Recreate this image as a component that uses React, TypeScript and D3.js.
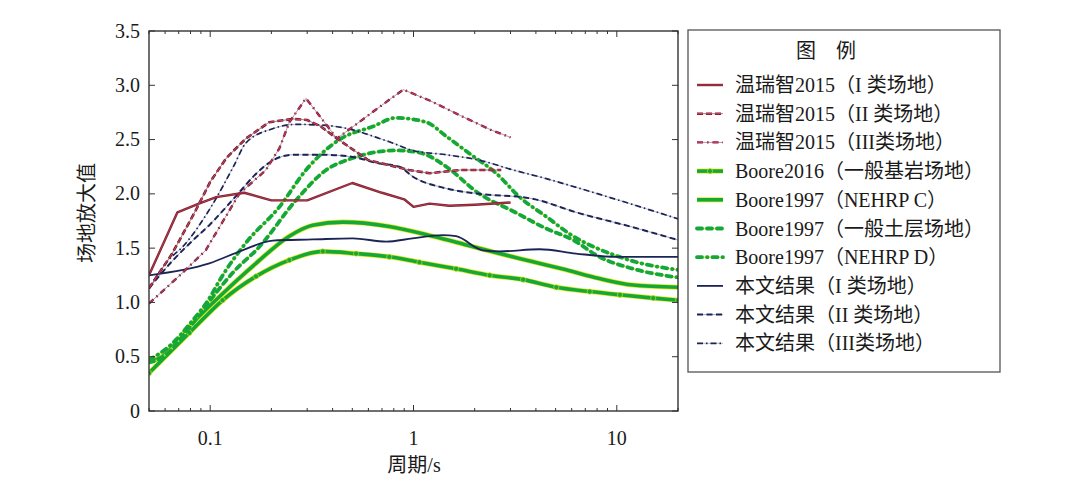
import React from "react";
import * as d3 from "d3";

// ---- data (period in s, amplification factor) ----
const wen1T = [0.05, 0.069, 0.088, 0.107, 0.147, 0.2, 0.3, 0.5, 0.7, 0.9, 1.0, 1.2, 1.5, 2.0, 3.0];
const wen1V = [1.25, 1.83, 1.91, 1.97, 2.01, 1.94, 1.94, 2.1, 2.01, 1.95, 1.88, 1.91, 1.89, 1.9, 1.92];

const wen2T = [0.05, 0.065, 0.085, 0.1, 0.12, 0.15, 0.195, 0.255, 0.3, 0.35, 0.42, 0.6, 0.95, 1.2, 1.7, 2.7];
const wen2V = [1.13, 1.45, 1.85, 2.11, 2.33, 2.51, 2.66, 2.69, 2.68, 2.62, 2.51, 2.31, 2.22, 2.19, 2.22, 2.22];

const wen3T = [0.05, 0.07, 0.095, 0.139, 0.188, 0.219, 0.245, 0.296, 0.42, 0.54, 0.68, 0.89, 1.2, 1.75, 2.4, 3.0];
const wen3V = [0.99, 1.24, 1.48, 2.0, 2.22, 2.42, 2.66, 2.88, 2.51, 2.66, 2.8, 2.96, 2.86, 2.71, 2.59, 2.52];

const b16T = [0.05, 0.079, 0.115, 0.168, 0.245, 0.358, 0.522, 0.76, 1.07, 1.62, 2.37, 3.46, 5.04, 7.36, 10.36, 15.1, 20];
const b16V = [0.35, 0.72, 1.02, 1.24, 1.39, 1.47, 1.45, 1.42, 1.37, 1.31, 1.25, 1.21, 1.14, 1.1, 1.07, 1.04, 1.02];

const bcT = [0.05, 0.058, 0.079, 0.115, 0.168, 0.245, 0.319, 0.449, 0.76, 1.245, 1.82, 2.65, 3.87, 5.64, 8.2, 12, 20];
const bcV = [0.45, 0.5, 0.78, 1.08, 1.36, 1.61, 1.71, 1.74, 1.7, 1.61, 1.53, 1.45, 1.375, 1.3, 1.22, 1.16, 1.14];

const bsT = [0.05, 0.058, 0.08, 0.1, 0.13, 0.174, 0.264, 0.372, 0.503, 0.82, 1.0, 1.155, 1.45, 2.11, 3.09, 4.5, 6.1, 8.2, 12, 20];
const bsV = [0.45, 0.49, 0.78, 1.02, 1.28, 1.51, 1.94, 2.22, 2.33, 2.4, 2.39, 2.36, 2.25, 2.0, 1.84, 1.68, 1.575, 1.42, 1.31, 1.23];

const bdT = [0.05, 0.065, 0.08, 0.1, 0.111, 0.15, 0.219, 0.296, 0.432, 0.63, 0.82, 1.155, 1.45, 1.89, 2.55, 3.33, 4.5, 6.1, 9.6, 12, 20];
const bdV = [0.47, 0.62, 0.81, 1.05, 1.2, 1.55, 1.88, 2.22, 2.5, 2.62, 2.7, 2.66, 2.53, 2.37, 2.19, 1.97, 1.79, 1.61, 1.44, 1.38, 1.3];

const our1T = [0.05, 0.099, 0.144, 0.203, 0.319, 0.503, 0.734, 0.99, 1.39, 1.62, 2.19, 2.65, 4.17, 6.3, 10, 20];
const our1V = [1.25, 1.36, 1.48, 1.57, 1.58, 1.59, 1.56, 1.59, 1.62, 1.61, 1.48, 1.47, 1.49, 1.45, 1.42, 1.42];

const our2T = [0.05, 0.065, 0.082, 0.1, 0.12, 0.14, 0.165, 0.2, 0.255, 0.358, 0.503, 0.68, 0.853, 0.99, 1.45, 2.11, 3.72, 6.58, 11.6, 20];
const our2V = [1.13, 1.38, 1.57, 1.72, 1.88, 2.02, 2.17, 2.3, 2.36, 2.36, 2.34, 2.28, 2.25, 2.16, 2.05, 2.0, 1.96, 1.82, 1.7, 1.575];

const our3T = [0.05, 0.063, 0.073, 0.101, 0.13, 0.15, 0.203, 0.264, 0.372, 0.503, 0.68, 0.76, 0.99, 1.45, 2.11, 3.09, 4.5, 6.58, 11.6, 20];
const our3V = [1.13, 1.4, 1.51, 1.88, 2.25, 2.47, 2.6, 2.64, 2.63, 2.59, 2.51, 2.48, 2.4, 2.36, 2.31, 2.22, 2.14, 2.05, 1.91, 1.77];

const legendLabels = [
  "温瑞智2015（I 类场地）",
  "温瑞智2015（II 类场地）",
  "温瑞智2015（III类场地）",
  "Boore2016（一般基岩场地）",
  "Boore1997（NEHRP C）",
  "Boore1997（一般土层场地）",
  "Boore1997（NEHRP D）",
  "本文结果（I 类场地）",
  "本文结果（II 类场地）",
  "本文结果（III类场地）",
];

const yTicks = [0, 0.5, 1.0, 1.5, 2.0, 2.5, 3.0, 3.5];
const xTickLabels = [0.1, 1, 10];

// ---- styles per series ----
type Layer = { stroke: string; width: number; dash?: string; cap?: string };
type Style = { layers: Layer[]; markers?: boolean };

const GREEN = "#14a83c";
const YELLOW = "#e6ea10";
const NAVY = "#1c2457";

const styles: Style[] = [
  { layers: [{ stroke: "#7e1f2e", width: 2.4 }, { stroke: "#c0485a", width: 0.7 }] },
  { layers: [{ stroke: "#7a5a66", width: 0.8 }, { stroke: "#6e1f30", width: 2.6, dash: "6,3" }, { stroke: "#e0405e", width: 1.0, dash: "6,3" }] },
  { layers: [{ stroke: "#8a7078", width: 0.7 }, { stroke: "#7a2038", width: 2.4, dash: "6,4,1.5,4" }, { stroke: "#e03a6a", width: 0.9, dash: "6,4,1.5,4" }] },
  { layers: [{ stroke: YELLOW, width: 5 }, { stroke: GREEN, width: 3.6 }], markers: true },
  { layers: [{ stroke: YELLOW, width: 5 }, { stroke: GREEN, width: 3.6 }] },
  { layers: [{ stroke: YELLOW, width: 1.4 }, { stroke: GREEN, width: 3.8, dash: "5,5", cap: "round" }] },
  { layers: [{ stroke: YELLOW, width: 1.4 }, { stroke: GREEN, width: 3.8, dash: "5,5,0.5,5", cap: "round" }] },
  { layers: [{ stroke: NAVY, width: 1.8 }] },
  { layers: [{ stroke: "#5a6a90", width: 0.6 }, { stroke: NAVY, width: 2.0, dash: "6,3.5" }] },
  { layers: [{ stroke: "#6a7898", width: 0.5 }, { stroke: NAVY, width: 1.7, dash: "6,3,1.5,3" }] },
];

const seriesT = [wen1T, wen2T, wen3T, b16T, bcT, bsT, bdT, our1T, our2T, our3T];
const seriesV = [wen1V, wen2V, wen3V, b16V, bcV, bsV, bdV, our1V, our2V, our3V];
const drawOrder = [4, 3, 5, 6, 7, 8, 9, 0, 1, 2];

const W = 1080;
const H = 492;
const L = 149, R = 678, T = 31, B = 411;
const FONT = "'Liberation Serif', 'Noto Sans CJK SC', serif";

export default function App() {
  const x = d3.scaleLog().domain([0.05, 20]).range([L, R]);
  const y = d3.scaleLinear().domain([0, 3.5]).range([B, T]);

  const minorTicks: number[] = [];
  for (const dec of [0.01, 0.1, 1, 10]) {
    for (let k = 1; k <= 9; k++) {
      const v = dec * k;
      if (v >= 0.05 && v <= 20) minorTicks.push(v);
    }
  }
  const isMajor = (v: number) => [0.1, 1, 10].some((m) => Math.abs(v - m) < 1e-9);

  const line = d3
    .line<[number, number]>()
    .x((d) => x(d[0]))
    .y((d) => y(d[1]))
    .curve(d3.curveMonotoneX);
  const lineLin = d3
    .line<[number, number]>()
    .x((d) => x(d[0]))
    .y((d) => y(d[1]));

  const legX0 = 697, legX1 = 723, legTextX = 735, legY0 = 85, legDy = 28.7;

  return (
    <svg width={W} height={H} style={{ position: "absolute", left: 0, top: 0, background: "#fff" }} fontFamily={FONT}>
      <defs>
        <clipPath id="plotclip">
          <rect x={L} y={T} width={R - L} height={B - T} />
        </clipPath>
      </defs>

      {/* series */}
      <g clipPath="url(#plotclip)">
        {drawOrder.map((i) => {
          const pts: [number, number][] = seriesT[i].map((t, j) => [t, seriesV[i][j]]);
          const gen = i === 0 || i === 2 || i === 1 ? lineLin : line;
          const d = gen(pts) || "";
          return (
            <g key={i}>
              {styles[i].layers.map((ly, k) => (
                <path
                  key={k}
                  d={d}
                  fill="none"
                  stroke={ly.stroke}
                  strokeWidth={ly.width}
                  strokeDasharray={ly.dash}
                  strokeLinecap={(ly.cap as any) || "butt"}
                  strokeLinejoin="round"
                />
              ))}
              {styles[i].markers &&
                pts.map((p, k) => (
                  <circle key={k} cx={x(p[0])} cy={y(p[1])} r={2.6} fill={GREEN} stroke={YELLOW} strokeWidth={0.6} />
                ))}
            </g>
          );
        })}
      </g>

      {/* frame */}
      <rect x={L} y={T} width={R - L} height={B - T} fill="none" stroke="#333" strokeWidth={1.4} />

      {/* x ticks (bottom & top, inward) */}
      {minorTicks.map((v, k) => {
        const len = isMajor(v) ? 6 : 3;
        return (
          <g key={k} stroke="#333" strokeWidth={1}>
            <line x1={x(v)} x2={x(v)} y1={B} y2={B - len} />
            <line x1={x(v)} x2={x(v)} y1={T} y2={T + len} />
          </g>
        );
      })}
      {xTickLabels.map((v) => (
        <text key={v} x={x(v)} y={445} textAnchor="middle" fontSize={20} fill="#1a1a1a">
          {v}
        </text>
      ))}

      {/* y ticks */}
      {yTicks.map((v) => (
        <g key={v}>
          <line x1={L} x2={L + 6} y1={y(v)} y2={y(v)} stroke="#333" strokeWidth={1} />
          <line x1={R} x2={R - 6} y1={y(v)} y2={y(v)} stroke="#333" strokeWidth={1} />
          <text x={140} y={y(v) + 6.5} textAnchor="end" fontSize={20} fill="#1a1a1a">
            {v === 0 ? "0" : v.toFixed(1)}
          </text>
        </g>
      ))}

      {/* axis titles */}
      <text x={414} y={472} textAnchor="middle" fontSize={20} fill="#1a1a1a">
        周期/s
      </text>
      <text
        transform={`translate(94,${213}) rotate(-90)`}
        textAnchor="middle"
        fontSize={20}
        fill="#1a1a1a"
      >
        场地放大值
      </text>

      {/* legend */}
      <rect x={688} y={30} width={312} height={342} fill="#fff" stroke="#555" strokeWidth={1.3} />
      <text x={826} y={58} textAnchor="middle" fontSize={20} fill="#1a1a1a">
        图　例
      </text>
      {legendLabels.map((lab, i) => {
        const yy = legY0 + i * legDy;
        const st = styles[i];
        return (
          <g key={i}>
            {st.layers.map((ly, k) => (
              <line
                key={k}
                x1={legX0}
                x2={legX1}
                y1={yy}
                y2={yy}
                stroke={ly.stroke}
                strokeWidth={ly.width}
                strokeDasharray={ly.dash}
                strokeLinecap={(ly.cap as any) || "butt"}
              />
            ))}
            {st.markers && <circle cx={(legX0 + legX1) / 2} cy={yy} r={2.6} fill={GREEN} stroke={YELLOW} strokeWidth={0.6} />}
            <text x={legTextX} y={yy + 7} fontSize={20} fill="#1a1a1a">
              {lab}
            </text>
          </g>
        );
      })}
    </svg>
  );
}
